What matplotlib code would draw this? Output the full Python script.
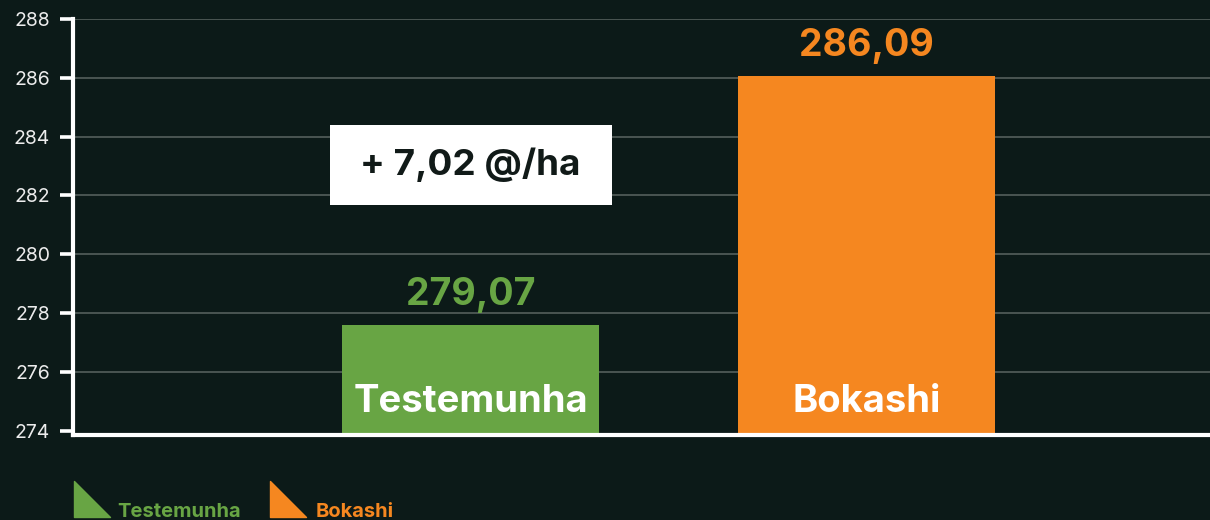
import matplotlib
matplotlib.use("Agg")
import matplotlib.pyplot as plt
from matplotlib.path import Path
from matplotlib.lines import Line2D
from matplotlib.patches import Rectangle
from matplotlib.transforms import blended_transform_factory

categories = ["Testemunha", "Bokashi"]
bar_heights = [277.6, 286.07]           # bar tops as drawn in the picture
reported = [279.07, 286.09]             # values printed above the bars
colors = ["#68a544", "#f58720"]
yticks = [274, 276, 278, 280, 282, 284, 286, 288]

bg = "#0c1a18"
plt.rcParams["font.family"] = ["Inter", "DejaVu Sans"]

fig = plt.figure(figsize=(12.1, 5.2), dpi=100, facecolor=bg)
ax = fig.add_axes([73 / 1210, 85 / 520, 1 - 73 / 1210, 416 / 520])
ax.set_facecolor(bg)

x = list(range(len(categories)))
ax.bar(x, bar_heights, width=0.649, color=colors, zorder=3)

ax.set_ylim(273.85, 288)
ax.set_xlim(-1.004, 1.867)
ax.set_yticks(yticks)
ax.set_yticklabels([str(t) for t in yticks], fontsize=14, color="#ececec")
ax.set_xticks([])
ax.tick_params(axis="y", length=9.5, width=2.6, color="white", pad=7, direction="out")
ax.grid(axis="y", color="#5b6562", linewidth=1.1, zorder=0)
ax.get_ygridlines()[0].set_visible(False)  # 274 sits on the baseline

for s in ["top", "right"]:
    ax.spines[s].set_visible(False)
for s in ["left", "bottom"]:
    ax.spines[s].set_color("white")
    ax.spines[s].set_linewidth(3)
    ax.spines[s].set_zorder(5)

for i, (h, v) in enumerate(zip(bar_heights, reported)):
    ax.annotate(f"{v:.2f}".replace(".", ","), xy=(i, h), xytext=(0, 8.5),
                textcoords="offset points", ha="center", va="bottom",
                fontsize=27, fontweight="bold", color=colors[i], zorder=4)
    ax.annotate(categories[i], xy=(i, 0), xycoords=("data", "axes fraction"),
                xytext=(0, 24), textcoords="offset points", ha="center",
                va="center", fontsize=27.5, fontweight="bold", color="white", zorder=4)

# callout box with the difference
trans = blended_transform_factory(ax.transData, ax.transAxes)
ax.add_patch(Rectangle((-0.356, 0.553), 0.712, 0.192, transform=trans,
                       facecolor="white", edgecolor="none", zorder=6))
diff = reported[1] - reported[0]
ax.text(0, 0.649, f"+ {diff:.2f} @/ha".replace(".", ","), transform=trans,
        ha="center", va="center", fontsize=26.5, fontweight="bold",
        color="#111a18", zorder=7)

# legend: right triangles + coloured labels
tri = Path([(-1, 1), (-1, -1), (1, -1), (-1, 1)],
           [Path.MOVETO, Path.LINETO, Path.LINETO, Path.CLOSEPOLY])
leg_marker_x = [92, 288]
leg_text_x = [117, 316]
for c, lab, mx, tx in zip(colors, categories, leg_marker_x, leg_text_x):
    fig.add_artist(Line2D([mx / 1210], [1 - 499 / 520], transform=fig.transFigure,
                          linestyle="none", marker=tri, markersize=26,
                          markerfacecolor=c, markeredgecolor=c))
    fig.text(tx / 1210, 3 / 520, lab, ha="left", va="baseline", fontsize=14.5,
             fontweight="bold", color=c)

fig.savefig("out.png", dpi=100, facecolor=bg)
